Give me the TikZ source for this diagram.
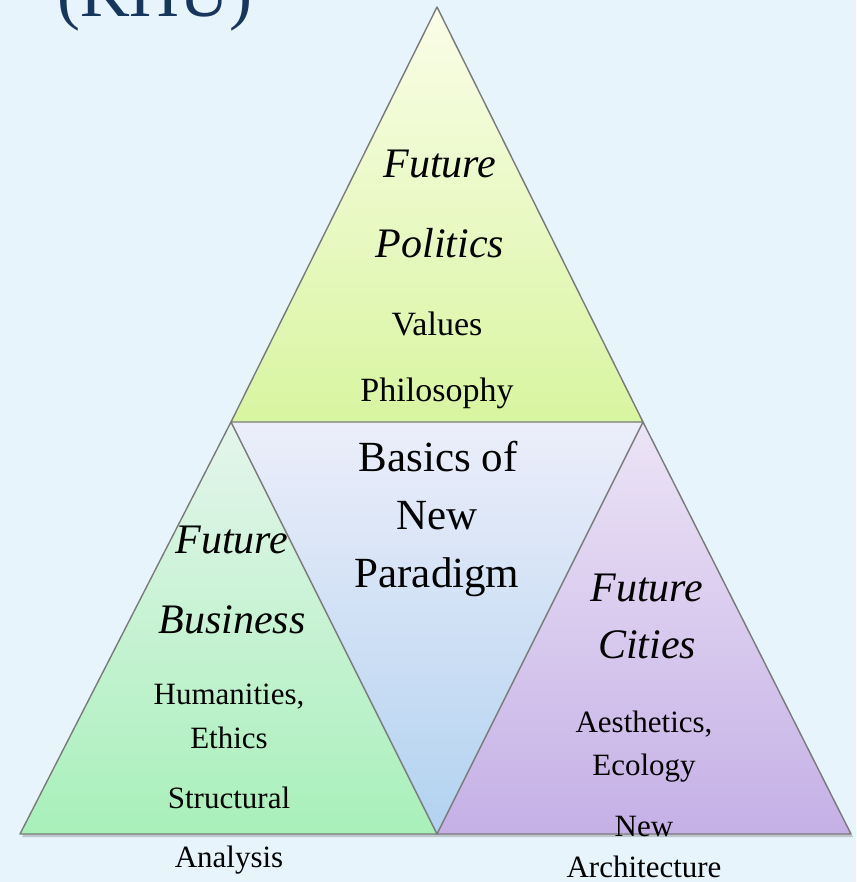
\documentclass[tikz,border=0pt]{standalone}
\usepackage{fontspec}
\setmainfont{Liberation Serif}
\definecolor{bg}{HTML}{E8F4FC}
\definecolor{navy}{HTML}{17365D}
\definecolor{edge}{HTML}{7A7A7A}
\tikzset{
  tri/.style={draw=edge, line width=1.4pt, line join=round},
  shadowtri/.style={fill=black, opacity=0.18},
  big/.style={font=\fontsize{42}{48}\selectfont\itshape, inner sep=0pt, anchor=base},
  mid/.style={font=\fontsize{43}{50}\selectfont, inner sep=0pt, anchor=base},
  small/.style={font=\fontsize{34}{40}\selectfont, inner sep=0pt, anchor=base},
  smaller/.style={font=\fontsize{31}{36}\selectfont, inner sep=0pt, anchor=base},
}
\begin{document}
\begin{tikzpicture}[x=1pt,y=-1pt]
\useasboundingbox (0,0) rectangle (856,882);
\clip (0,0) rectangle (856,882);
\fill[bg] (0,0) rectangle (856,882);
% title
\node[font=\fontsize{69}{80}\selectfont, text=navy, inner sep=0pt, anchor=base west] (title) at (57,17) {(KHU)};
% coordinates
\coordinate (A) at (437,7);
\coordinate (L) at (231,422);
\coordinate (R) at (643,422);
\coordinate (BL) at (20,834);
\coordinate (BM) at (437,834);
\coordinate (BR) at (851,834);
% shadows
\fill[shadowtri] ([shift={(2,3)}]BL) -- ([shift={(2,3)}]L) -- ([shift={(2,3)}]R) -- ([shift={(2,3)}]BR) -- cycle;
\fill[shadowtri] ([shift={(2,3)}]L) -- ([shift={(2,3)}]A) -- ([shift={(2,3)}]R) -- cycle;
% triangles
\shade[top color={rgb,255:red,229;green,245;blue,236}, bottom color={rgb,255:red,168;green,240;blue,186}] (BL) -- (L) -- (BM) -- cycle;
\shade[top color={rgb,255:red,236;green,228;blue,246}, bottom color={rgb,255:red,197;green,176;blue,230}] (BM) -- (R) -- (BR) -- cycle;
\shade[top color={rgb,255:red,236;green,238;blue,250}, bottom color={rgb,255:red,178;green,210;blue,240}] (L) -- (R) -- (BM) -- cycle;
\shade[top color={rgb,255:red,250;green,253;blue,232}, bottom color={rgb,255:red,216;green,245;blue,160}] (A) -- (R) -- (L) -- cycle;
\draw[tri] (BL) -- (L) -- (BM) -- cycle;
\draw[tri] (BM) -- (R) -- (BR) -- cycle;
\draw[tri] (A) -- (R) -- (L) -- cycle;
% top triangle texts
\node[big] (tf) at (440,178) {Future};
\node[big] (tp) at (440,258) {Politics};
\node[small] (tv) at (437,335) {Values};
\node[small] (tph) at (437,401) {Philosophy};
% middle
\node[mid] (m1) at (438,471) {Basics of};
\node[mid] (m2) at (437,529) {New};
\node[mid] (m3) at (437,587) {Paradigm};
% left
\node[big] (lf) at (232,553) {Future};
\node[big] (lb) at (232,633) {Business};
\node[smaller] (lh) at (229,704) {Humanities,};
\node[smaller] (le) at (229,748) {Ethics};
\node[smaller] (ls) at (229,808) {Structural};
\node[smaller] (la) at (229,867) {Analysis};
% right
\node[big] (rf) at (647,601) {Future};
\node[big] (rc) at (647,658) {Cities};
\node[smaller] (ra) at (644,732) {Aesthetics,};
\node[smaller] (re) at (644,775) {Ecology};
\node[smaller] (rn) at (644,836) {New};
\node[smaller] (rar) at (644,877) {Architecture};
\end{tikzpicture}
\end{document}
